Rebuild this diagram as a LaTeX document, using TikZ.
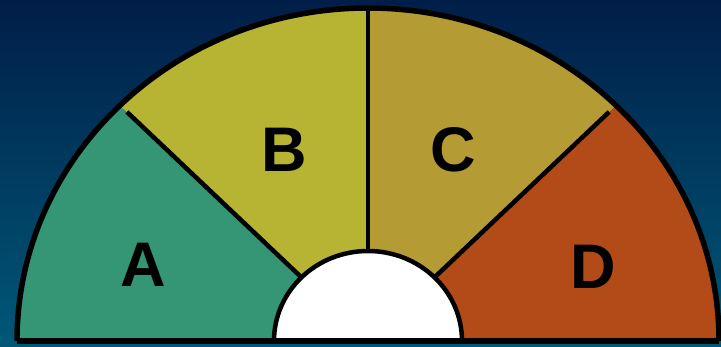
\documentclass[tikz,border=0pt]{standalone}
\usepackage{fontspec}
\setmainfont{Liberation Sans}
\usetikzlibrary{positioning}
\definecolor{bgtop}{RGB}{0,30,72}
\definecolor{bgbot}{RGB}{0,88,120}
\definecolor{zoneA}{RGB}{52,150,116}
\definecolor{zoneB}{RGB}{182,180,50}
\definecolor{zoneC}{RGB}{181,155,51}
\definecolor{zoneD}{RGB}{179,75,25}

\begin{document}
\begin{tikzpicture}[x=1pt,y=1pt,
  letter/.style={font=\fontsize{63}{63}\selectfont\bfseries, text=black},
  rim/.style={line width=5.5pt, line join=round},
  divider/.style={line width=4.5pt}]
% background
\useasboundingbox (0,0) rectangle (721,346);
\shade[top color=bgtop, bottom color=bgbot] (0,0) rectangle (721,346);

\coordinate (ctr) at (368,5);

% the four zones
\foreach \col/\a/\b in {zoneA/180/135, zoneB/135/90, zoneC/90/45, zoneD/45/0}
  \fill[\col] (ctr) -- ([shift={(\a:351 and 333)}]ctr)
    arc[start angle=\a, end angle=\b, x radius=351, y radius=333] -- cycle;

\foreach \a in {135,45}
  \draw[divider] ([shift={(\a:92 and 88)}]ctr) -- ([shift={(\a:341 and 324)}]ctr);
\draw[divider] ([shift={(90:92 and 88)}]ctr) -- ([shift={(90:351 and 331)}]ctr);

% outline
\draw[rim] ([shift={(0:351 and 333)}]ctr)
  arc[start angle=0, end angle=180, x radius=351, y radius=333];

% hub
\filldraw[fill=white, draw=black, line width=4.5pt] ([shift={(0:94 and 90)}]ctr)
  arc[start angle=0, end angle=180, x radius=94, y radius=90] -- cycle;

\draw[rim] ([shift={(180:351 and 333)}]ctr) -- ([shift={(0:351 and 333)}]ctr);

\node[letter] (labA) at (143,81) {A};
\node[letter] (labB) at (284,196) {B};
\node[letter] (labC) at (453,196) {C};
\node[letter] (labD) at (593,79) {D};

\end{tikzpicture}
\end{document}
